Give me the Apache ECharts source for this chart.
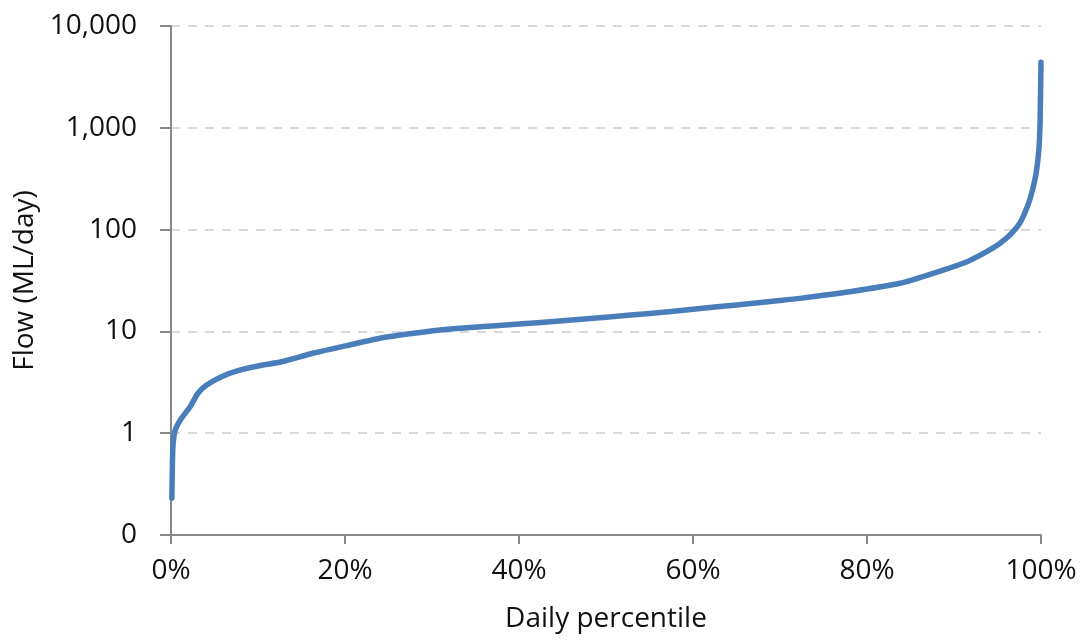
<!DOCTYPE html>
<html>
<head>
<meta charset="utf-8">
<script src="https://cdn.jsdelivr.net/npm/echarts@6/dist/echarts.min.js"></script>
<style>
  html, body { margin: 0; padding: 0; background: #fff; }
  #chart { width: 1088px; height: 641px; }
</style>
</head>
<body>
<div id="chart"></div>
<script>
// flow duration curve
const percentiles = [0.1, 0.2, 0.35, 0.57, 1.2, 2.2, 3.1, 4.1, 5.8, 7.7, 10, 12.7, 16.3, 20.2, 24, 27.9, 31.7, 35.5, 40, 45, 50, 55, 60, 65, 70, 72.3, 78, 83.8, 87.6, 91.5, 94.5, 96, 97, 97.6, 98.2, 98.7, 99.3, 99.6, 99.8, 99.9, 100];
const flows = [0.23, 0.68, 0.95, 1.12, 1.40, 1.82, 2.47, 2.97, 3.59, 4.11, 4.57, 5.03, 6.1, 7.25, 8.56, 9.58, 10.5, 11.1, 11.8, 12.7, 13.8, 15.0, 16.5, 18.2, 20.1, 21.1, 24.5, 29.7, 37.2, 48.4, 66, 82, 100, 117, 150, 195, 310, 450, 700, 1200, 4400];
const yTicks = [0.1, 1, 10, 100, 1000, 10000];
const xTicks = [0, 20, 40, 60, 80, 100];

const font = '"Open Sans", "Noto Sans", sans-serif';
const chart = echarts.init(document.getElementById('chart'));

const option = {
  animation: false,
  grid: { left: 171, right: 47, top: 26, bottom: 106, containLabel: false },
  xAxis: {
    type: 'value',
    min: xTicks[0],
    max: xTicks[xTicks.length - 1],
    interval: 20,
    name: 'Daily percentile',
    nameLocation: 'middle',
    nameGap: 70,
    nameTextStyle: { fontFamily: font, fontSize: 28, color: '#111' },
    axisLine: { show: true, lineStyle: { color: '#878787', width: 2 } },
    axisTick: { show: true, length: 9, lineStyle: { color: '#878787', width: 2 } },
    axisLabel: {
      margin: 22,
      fontFamily: font, fontSize: 28, color: '#111',
      formatter: v => v + '%'
    },
    splitLine: { show: false }
  },
  yAxis: {
    type: 'log',
    logBase: 10,
    min: yTicks[0],
    max: yTicks[yTicks.length - 1],
    name: 'Flow (ML/day)',
    nameLocation: 'middle',
    nameGap: 130,
    nameRotate: 90,
    nameTextStyle: { fontFamily: font, fontSize: 28, color: '#111' },
    axisLine: { show: true, lineStyle: { color: '#878787', width: 2 } },
    axisTick: { show: true, length: 11, lineStyle: { color: '#878787', width: 2 } },
    axisLabel: {
      margin: 34,
      fontFamily: font, fontSize: 28, color: '#111',
      formatter: v => v < 1 ? '0' : Math.round(v).toLocaleString('en-US')
    },
    splitLine: { show: true, lineStyle: { color: '#d9d9d9', width: 2, type: [9, 8] } }
  },
  series: [{
    type: 'line',
    data: percentiles.map((p, i) => [p, flows[i]]),
    showSymbol: false,
    smooth: 0.2,
    lineStyle: { color: '#4a7ebb', width: 5.5, cap: 'round', join: 'round' }
  }]
};

chart.setOption(option);
</script>
</body>
</html>
